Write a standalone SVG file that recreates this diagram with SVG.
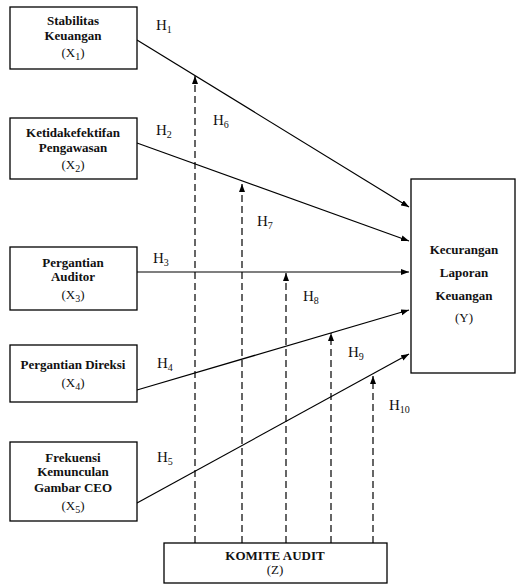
<svg xmlns="http://www.w3.org/2000/svg" width="516" height="584" viewBox="0 0 516 584">
<style>
.box{fill:#fff;stroke:#000;stroke-width:1.3}
.lbl{font-family:"Liberation Serif","Times New Roman",serif;font-size:13px;font-weight:bold;text-anchor:middle;fill:#111}
.var{font-family:"Liberation Serif","Times New Roman",serif;font-size:13px;text-anchor:middle;fill:#111}
.h{font-family:"Liberation Serif","Times New Roman",serif;font-size:15px;fill:#111}
.sub{font-size:10px}
.solid{stroke:#000;stroke-width:1.2;fill:none}
.dash{stroke:#000;stroke-width:1.2;fill:none;stroke-dasharray:7,4}
</style>
<defs>
<marker id="ah" markerUnits="userSpaceOnUse" markerWidth="9" markerHeight="7" refX="8" refY="3" orient="auto">
<path d="M0,0 L8,3 L0,6 z" fill="#000"/>
</marker>
</defs>
<rect width="516" height="584" fill="#fff"/>
<g id="connectors">
<line class="solid" x1="137" y1="40" x2="409" y2="207" marker-end="url(#ah)"/>
<line class="solid" x1="137" y1="143" x2="409" y2="241" marker-end="url(#ah)"/>
<line class="solid" x1="137" y1="272" x2="409" y2="272" marker-end="url(#ah)"/>
<line class="solid" x1="137" y1="390" x2="409" y2="310" marker-end="url(#ah)"/>
<line class="solid" x1="137" y1="503" x2="409" y2="354" marker-end="url(#ah)"/>
<line class="dash" x1="195" y1="543" x2="195" y2="76" marker-end="url(#ah)"/>
<line class="dash" x1="242" y1="543" x2="242" y2="184" marker-end="url(#ah)"/>
<line class="dash" x1="286" y1="543" x2="286" y2="273" marker-end="url(#ah)"/>
<line class="dash" x1="331" y1="543" x2="331" y2="333" marker-end="url(#ah)"/>
<line class="dash" x1="373" y1="543" x2="373" y2="376" marker-end="url(#ah)"/>
<text class="h" x="156" y="30">H<tspan class="sub" dy="3">1</tspan></text>
<text class="h" x="156" y="135">H<tspan class="sub" dy="3">2</tspan></text>
<text class="h" x="153" y="263">H<tspan class="sub" dy="3">3</tspan></text>
<text class="h" x="157" y="368">H<tspan class="sub" dy="3">4</tspan></text>
<text class="h" x="157" y="462">H<tspan class="sub" dy="3">5</tspan></text>
<text class="h" x="213" y="125">H<tspan class="sub" dy="3">6</tspan></text>
<text class="h" x="257" y="226">H<tspan class="sub" dy="3">7</tspan></text>
<text class="h" x="303" y="301">H<tspan class="sub" dy="3">8</tspan></text>
<text class="h" x="348" y="357">H<tspan class="sub" dy="3">9</tspan></text>
<text class="h" x="389" y="410">H<tspan class="sub" dy="3">10</tspan></text>
</g>
<g id="x1">
<rect class="box" x="10" y="7" width="127" height="62"/>
<text class="lbl" x="73" y="25">Stabilitas</text>
<text class="lbl" x="73" y="40">Keuangan</text>
<text class="var" x="73" y="57">(X<tspan class="sub" dy="3">1</tspan><tspan dy="-3">)</tspan></text>
</g>
<g id="x2">
<rect class="box" x="10" y="118" width="127" height="61"/>
<text class="lbl" x="73" y="137">Ketidakefektifan</text>
<text class="lbl" x="73" y="152">Pengawasan</text>
<text class="var" x="73" y="169">(X<tspan class="sub" dy="3">2</tspan><tspan dy="-3">)</tspan></text>
</g>
<g id="x3">
<rect class="box" x="10" y="247" width="127" height="63"/>
<text class="lbl" x="73" y="267">Pergantian</text>
<text class="lbl" x="73" y="281">Auditor</text>
<text class="var" x="73" y="299">(X<tspan class="sub" dy="3">3</tspan><tspan dy="-3">)</tspan></text>
</g>
<g id="x4">
<rect class="box" x="10" y="345" width="127" height="57"/>
<text class="lbl" x="73" y="369">Pergantian Direksi</text>
<text class="var" x="73" y="387">(X<tspan class="sub" dy="3">4</tspan><tspan dy="-3">)</tspan></text>
</g>
<g id="x5">
<rect class="box" x="10" y="442" width="127" height="79"/>
<text class="lbl" x="73" y="462">Frekuensi</text>
<text class="lbl" x="73" y="476">Kemunculan</text>
<text class="lbl" x="73" y="492">Gambar CEO</text>
<text class="var" x="73" y="510">(X<tspan class="sub" dy="3">5</tspan><tspan dy="-3">)</tspan></text>
</g>
<g id="y">
<rect class="box" x="411" y="179" width="104" height="194"/>
<text class="lbl" x="464" y="254">Kecurangan</text>
<text class="lbl" x="464" y="277">Laporan</text>
<text class="lbl" x="464" y="300">Keuangan</text>
<text class="var" x="464" y="322">(Y)</text>
</g>
<g id="z">
<rect class="box" x="164" y="543" width="223" height="40"/>
<text class="lbl" x="275" y="560">KOMITE AUDIT</text>
<text class="var" x="275" y="574">(Z)</text>
</g>
</svg>
